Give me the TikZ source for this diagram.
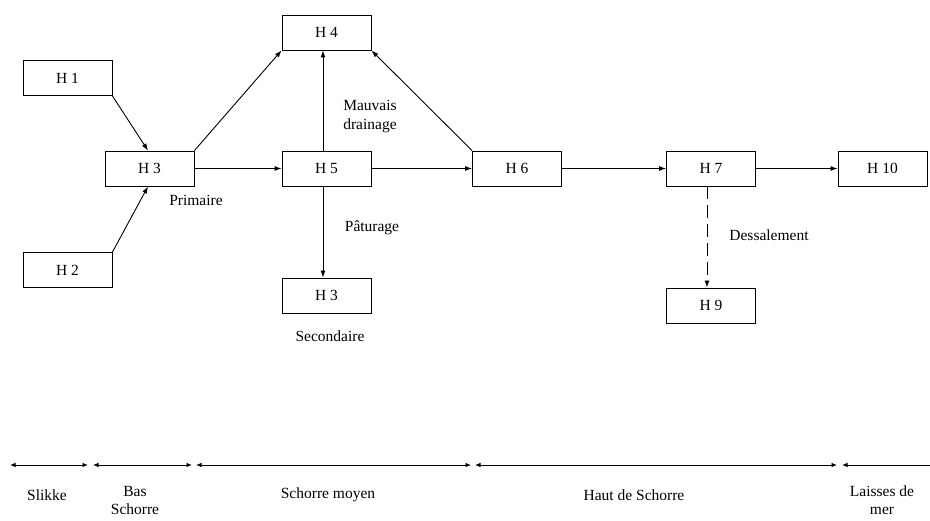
\documentclass[tikz,border=0pt]{standalone}
\usepackage{fontspec}
\setmainfont{Liberation Serif}
\usetikzlibrary{arrows.meta}
\begin{document}
\begin{tikzpicture}[x=1pt,y=-1pt,
  hbox/.style={draw,line width=0.9pt,minimum width=89pt,minimum height=35pt,inner sep=0pt,font=\fontsize{15.5}{17}\selectfont},
  lbl/.style={font=\fontsize{15.5}{17}\selectfont,inner sep=0pt,align=center},
  conn/.style={line width=0.9pt,-{Latex[length=7pt,width=5pt]}},
  zone/.style={line width=0.9pt,{Latex[length=5.5pt,width=4.5pt]}-{Latex[length=5.5pt,width=4.5pt]}}]
\useasboundingbox (0,0) rectangle (930,521);
% boxes
\node[hbox] (H4) at (326.5,32.5) {H 4};
\node[hbox] (H1) at (67.5,78) {H 1};
\node[hbox] (H3) at (149.5,168.5) {H 3};
\node[hbox] (H5) at (326.5,168.5) {H 5};
\node[hbox] (H2) at (67.5,270) {H 2};
\node[hbox] (H3b) at (326.5,295.5) {H 3};
\node[hbox] (H6) at (517,168.5) {H 6};
\node[hbox] (H7) at (711,168.5) {H 7};
\node[hbox] (H10) at (882.5,168.5) {H 10};
\node[hbox] (H9) at (711,305.5) {H 9};
% connectors
\draw[conn] (H1.south east) -- ([xshift=-1.5pt]H3.north);
\draw[conn] (H2.north east) -- ([xshift=-1.5pt]H3.south);
\draw[conn] (H3.north east) -- (H4.south west);
\draw[conn] ([xshift=-3.5pt]H5.north) -- ([xshift=-3.5pt]H4.south);
\draw[conn] (H6.north west) -- (H4.south east);
\draw[conn] (H3) -- (H5);
\draw[conn] (H5) -- (H6);
\draw[conn] (H6) -- (H7);
\draw[conn] (H7) -- (H10);
\draw[conn] ([xshift=-3.5pt]H5.south) -- ([xshift=-3.5pt]H3b.north);
\draw[conn,dash pattern=on 13pt off 6pt] ([xshift=-4pt]H7.south) -- ([xshift=-4pt]H9.north);
% labels
\node[lbl] (l1) at (370,117) {Mauvais\\[2pt]drainage};
\node[lbl] (l2) at (196,200) {Primaire};
\node[lbl] (l3) at (372,228) {Pâturage};
\node[lbl] (l4) at (330,336) {Secondaire};
\node[lbl] (l5) at (769,235) {Dessalement};
% zone scale
\coordinate (z0) at (10,465);
\coordinate (z1a) at (88,465);
\coordinate (z1b) at (93,465);
\coordinate (z2a) at (192,465);
\coordinate (z2b) at (196,465);
\coordinate (z3a) at (471,465);
\coordinate (z3b) at (475,465);
\coordinate (z4a) at (837,465);
\coordinate (z4b) at (842,465);
\coordinate (z5) at (930,465);
\draw[zone] (z0) -- (z1a);
\draw[zone] (z1b) -- (z2a);
\draw[zone] (z2b) -- (z3a);
\draw[zone] (z3b) -- (z4a);
\draw[line width=0.9pt,{Latex[length=5.5pt,width=4.5pt]}-] (z4b) -- (z5);
\node[lbl] (s1) at (47,495) {Slikke};
\node[lbl,anchor=north] (s2) at (135,486) {Bas\\[1pt]Schorre};
\node[lbl] (s3) at (328,495) {Schorre moyen};
\node[lbl] (s4) at (634,495) {Haut de Schorre};
\node[lbl,anchor=north] (s5) at (882,486) {Laisses de\\[1pt]mer};
\end{tikzpicture}
\end{document}
